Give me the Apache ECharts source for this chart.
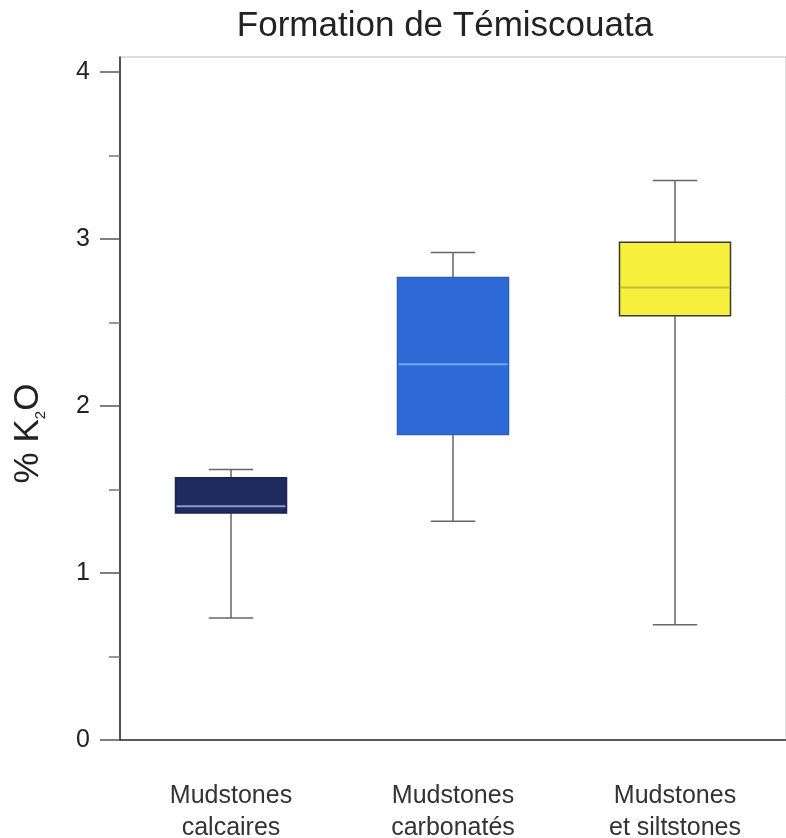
<!DOCTYPE html>
<html>
<head>
<meta charset="utf-8">
<script src="https://cdn.jsdelivr.net/npm/echarts@6/dist/echarts.min.js"></script>
<style>
  html, body { margin: 0; padding: 0; background: #fff; }
  #boxChart { width: 786px; height: 838px; }
</style>
</head>
<body>
<div id="boxChart"></div>
<script>
// données
const categories = ['Mudstones\ncalcaires', 'Mudstones\ncarbonatés', 'Mudstones\net siltstones']
const minValues = [0.73, 1.31, 0.69]
const q1Values = [1.36, 1.83, 2.54]
const medianValues = [1.40, 2.25, 2.71]
const q3Values = [1.57, 2.77, 2.98]
const maxValues = [1.62, 2.92, 3.35]
const majorTicks = [0, 1, 2, 3, 4]
const minorTicks = [0.5, 1.5, 2.5, 3.5]

// couleurs des boîtes
const fills = ['#1f2b5e', '#2f6bd6', '#f6f03c']
const borders = ['#1a2350', '#2a5cbc', '#3a3a2a']
const medianColors = ['#8b9bcc', '#6eaaf0', '#c4bc3a']

const boxData = categories.map((c, i) => [i, minValues[i], q1Values[i], medianValues[i], q3Values[i], maxValues[i]])

const myChart = echarts.init(document.getElementById('boxChart'))

function renderBox(params, api) {
  const i = api.value(0)
  const band = api.size([1, 0])[0]
  const cx = api.coord([i, 0])[0]
  const yMin = api.coord([i, api.value(1)])[1]
  const yQ1 = api.coord([i, api.value(2)])[1]
  const yMed = api.coord([i, api.value(3)])[1]
  const yQ3 = api.coord([i, api.value(4)])[1]
  const yMax = api.coord([i, api.value(5)])[1]
  const half = band * 0.25
  const cap = band * 0.1
  const whisker = { stroke: '#666', lineWidth: 1.5 }
  return {
    type: 'group',
    children: [
      { type: 'line', shape: { x1: cx, y1: yMax, x2: cx, y2: yQ3 }, style: whisker },
      { type: 'line', shape: { x1: cx, y1: yQ1, x2: cx, y2: yMin }, style: whisker },
      { type: 'line', shape: { x1: cx - cap, y1: yMax, x2: cx + cap, y2: yMax }, style: whisker },
      { type: 'line', shape: { x1: cx - cap, y1: yMin, x2: cx + cap, y2: yMin }, style: whisker },
      {
        type: 'rect',
        shape: { x: cx - half, y: yQ3, width: half * 2, height: yQ1 - yQ3 },
        style: { fill: fills[i], stroke: borders[i], lineWidth: 1.5 }
      },
      {
        type: 'line',
        shape: { x1: cx - half + 1, y1: yMed, x2: cx + half - 1, y2: yMed },
        style: { stroke: medianColors[i], lineWidth: 2 }
      }
    ]
  }
}

const option = {
  animation: false,
  backgroundColor: '#fff',
  title: {
    text: 'Formation de Témiscouata',
    left: 445,
    textAlign: 'center',
    top: 9,
    padding: 0,
    textStyle: {
      fontFamily: 'Liberation Sans',
      fontSize: 35,
      fontWeight: 'normal',
      color: '#222'
    }
  },
  grid: {
    left: 120,
    right: 0,
    top: 57,
    bottom: 98,
    outerBoundsMode: 'none',
    show: true,
    borderColor: '#bbb',
    borderWidth: 1
  },
  xAxis: {
    type: 'category',
    data: categories,
    axisLine: { lineStyle: { color: '#333', width: 1.5 } },
    axisTick: {
      alignWithLabel: true,
      length: 20,
      lineStyle: { color: '#666', width: 1.5 }
    },
    axisLabel: {
      margin: 40,
      fontFamily: 'Liberation Sans',
      fontSize: 25,
      lineHeight: 32,
      color: '#333'
    },
    splitLine: { show: false }
  },
  yAxis: [
    {
      type: 'value',
      min: 0,
      max: 4.09,
      interval: 1,
      name: '{a|% K}{s|2}{a|O}',
      nameLocation: 'middle',
      nameGap: 72,
      nameTextStyle: {
        padding: [0, 70, 0, 0],
        rich: {
          a: { fontFamily: 'Liberation Sans', fontSize: 35, color: '#222', lineHeight: 40 },
          s: { fontFamily: 'Liberation Sans', fontSize: 15, color: '#222', lineHeight: 40, verticalAlign: 'bottom', padding: [14, 0, 0, 0] }
        }
      },
      axisLine: { show: true, lineStyle: { color: '#222', width: 1.5 } },
      axisTick: {
        show: true,
        length: 20,
        customValues: majorTicks,
        lineStyle: { color: '#555', width: 1.5 }
      },
      axisLabel: {
        margin: 30,
        customValues: majorTicks,
        fontFamily: 'Liberation Sans',
        fontSize: 25,
        color: '#222',
        formatter: v => (Number.isInteger(v) ? v : '')
      },
      splitLine: { show: false }
    },
    {
      type: 'value',
      min: 0,
      max: 4.09,
      position: 'left',
      axisLine: { show: false },
      axisTick: {
        show: true,
        length: 11,
        customValues: minorTicks,
        lineStyle: { color: '#777', width: 1.5 }
      },
      axisLabel: { show: false },
      splitLine: { show: false }
    }
  ],
  series: [
    {
      type: 'custom',
      renderItem: renderBox,
      encode: { x: 0, y: [1, 2, 3, 4, 5] },
      data: boxData
    }
  ]
}

myChart.setOption(option)
</script>
</body>
</html>
